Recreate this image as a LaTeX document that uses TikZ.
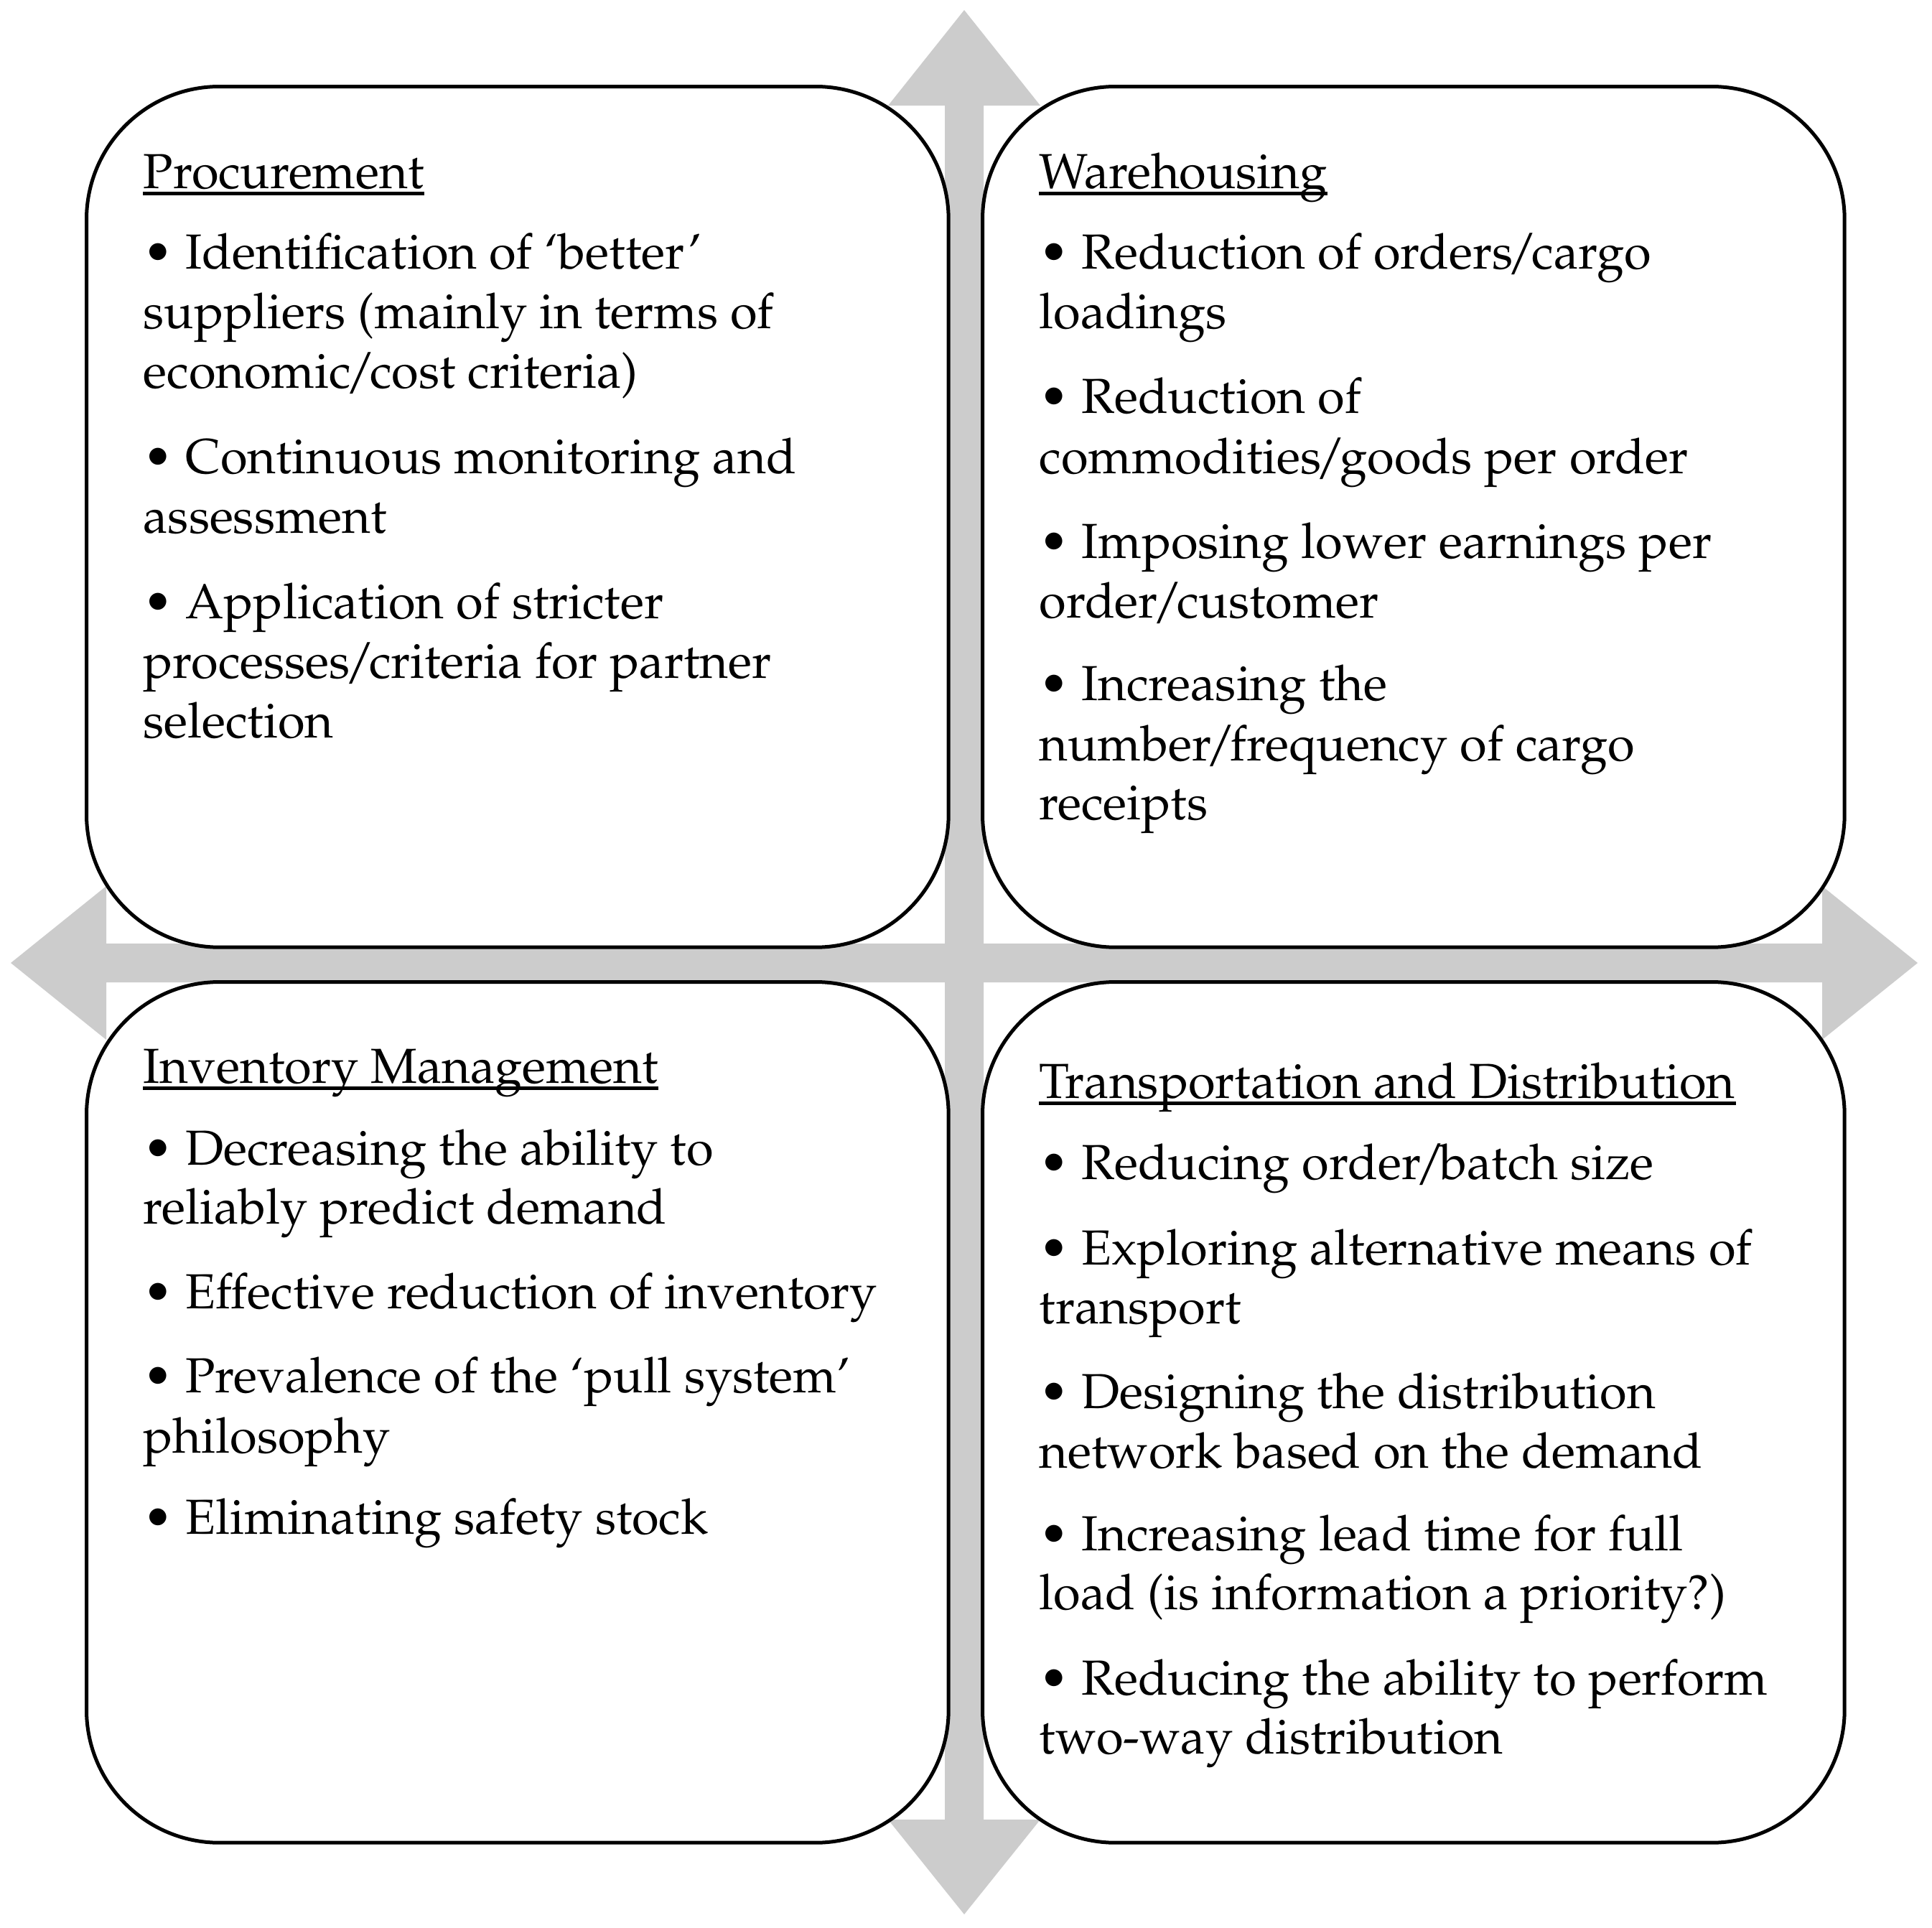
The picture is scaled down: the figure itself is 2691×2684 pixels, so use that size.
\documentclass[tikz,border=0pt]{standalone}
\usepackage[T1]{fontenc}
\usepackage{palatino}
\usepackage{textcomp}
\definecolor{arrgray}{HTML}{CCCCCC}
\newcommand\slsh{\kern-0.11em/\kern-0.11em}
\tikzset{
  panel/.style={draw=black, fill=white, line width=0.05cm, rounded corners=1.85cm},
  arrowshape/.style={fill=arrgray, draw=none},
  txt/.style={anchor=base west, inner sep=0pt, font=\fontsize{19.5pt}{23.6pt}\selectfont},
  uline/.style={line width=0.05cm}
}
\begin{document}
\begin{tikzpicture}[x=0.01cm, y=-0.01cm]
\useasboundingbox (0,0) rectangle (2691,2684);
% vertical double arrow
\fill[arrowshape] (1343,14) -- (1449,147) -- (1370,147) -- (1370,2534) -- (1449,2534) -- (1343,2666)
  -- (1237,2534) -- (1316,2534) -- (1316,147) -- (1237,147) -- cycle;
% horizontal double arrow
\fill[arrowshape] (15,1341) -- (148,1234) -- (148,1314) -- (2538,1314) -- (2538,1234) -- (2671,1341)
  -- (2538,1448) -- (2538,1368) -- (148,1368) -- (148,1448) -- cycle;
% panels
\node[panel, minimum width=12cm, minimum height=11.98cm, anchor=north west] (tl) at (118,118) {};
\node[panel, minimum width=12cm, minimum height=11.98cm, anchor=north west] (tr) at (1366,118) {};
\node[panel, minimum width=12cm, minimum height=11.98cm, anchor=north west] (bl) at (118,1365) {};
\node[panel, minimum width=12cm, minimum height=11.98cm, anchor=north west] (br) at (1366,1365) {};
% top left
\node[txt] (h1) at (199,262) {Procurement};
\node[txt] (a1) at (199,374) {\textbullet{} Identification of `better'};
\node[txt] (a2) at (199,457) {suppliers (mainly in terms of};
\node[txt] (a3) at (199,540) {economic\slsh cost criteria)};
\node[txt] (a4) at (199,659) {\textbullet{} Continuous monitoring and};
\node[txt] (a5) at (199,742) {assessment};
\node[txt] (a6) at (199,861) {\textbullet{} Application of stricter};
\node[txt] (a7) at (199,944) {processes\slsh criteria for partner};
\node[txt] (a8) at (199,1027) {selection};
% top right
\node[txt] (h2) at (1447,262) {Warehousing};
\node[txt] (b1) at (1447,374) {\textbullet{} Reduction of orders\slsh cargo};
\node[txt] (b2) at (1447,457) {loadings};
\node[txt] (b3) at (1447,575) {\textbullet{} Reduction of};
\node[txt] (b4) at (1447,659) {commodities\slsh goods per order};
\node[txt] (b5) at (1447,777) {\textbullet{} Imposing lower earnings per};
\node[txt] (b6) at (1447,860) {order\slsh customer};
\node[txt] (b7) at (1447,975) {\textbullet{} Increasing the};
\node[txt] (b8) at (1447,1059) {number\slsh frequency of cargo};
\node[txt] (b9) at (1447,1141) {receipts};
% bottom left
\node[txt] (h3) at (199,1508) {Inventory Management};
\node[txt] (c1) at (199,1622) {\textbullet{} Decreasing the ability to};
\node[txt] (c2) at (199,1704) {reliably predict demand};
\node[txt] (c3) at (199,1822) {\textbullet{} Effective reduction of inventory};
\node[txt] (c4) at (199,1939) {\textbullet{} Prevalence of the `pull system'};
\node[txt] (c5) at (199,2023) {philosophy};
\node[txt] (c6) at (199,2136) {\textbullet{} Eliminating safety stock};
% bottom right
\node[txt] (h4) at (1447,1529) {Transportation and Distribution};
\node[txt] (d1) at (1447,1642) {\textbullet{} Reducing order\slsh batch size};
\node[txt] (d2) at (1447,1761) {\textbullet{} Exploring alternative means of};
\node[txt] (d3) at (1447,1843) {transport};
\node[txt] (d4) at (1447,1961) {\textbullet{} Designing the distribution};
\node[txt] (d5) at (1447,2044) {network based on the demand};
\node[txt] (d6) at (1447,2159) {\textbullet{} Increasing lead time for full};
\node[txt] (d7) at (1447,2241) {load (is information a priority?)};
\node[txt] (d8) at (1447,2360) {\textbullet{} Reducing the ability to perform};
\node[txt] (d9) at (1447,2442) {two-way distribution};
% underlines
\foreach \h in {h1,h2,h3,h4}
  \draw[uline] ([yshift=-0.075cm]\h.base west) -- ([yshift=-0.075cm]\h.base east);
\end{tikzpicture}
\end{document}
